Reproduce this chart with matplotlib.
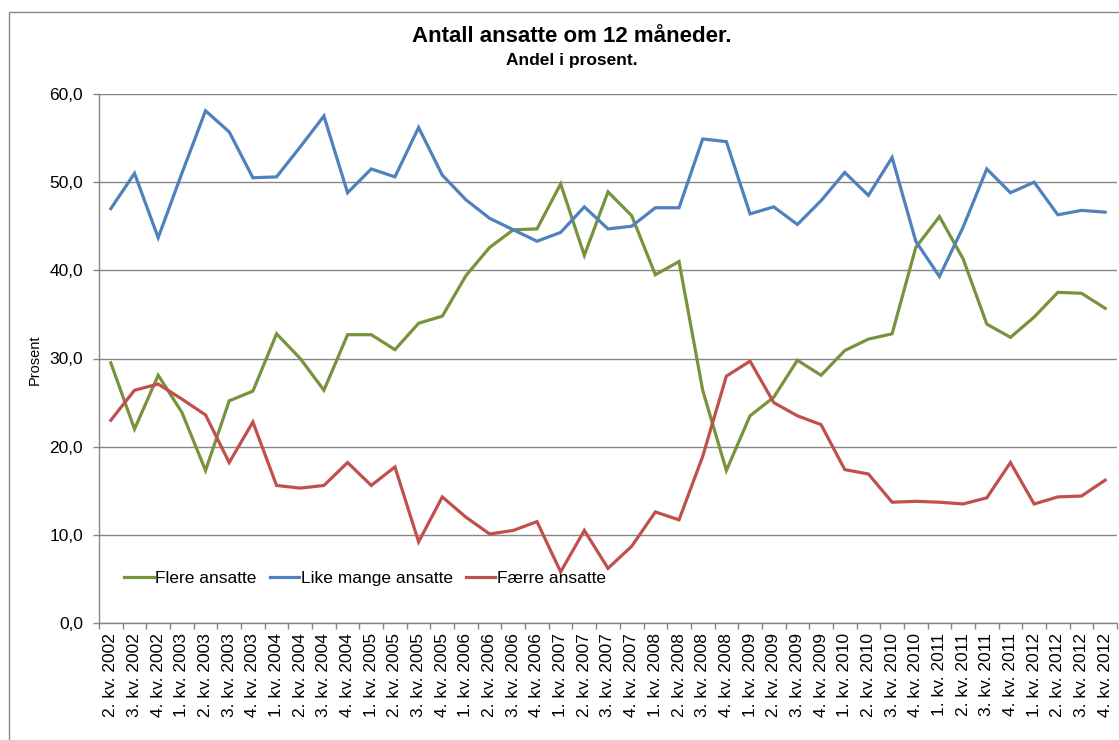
import matplotlib
matplotlib.use("Agg")
import matplotlib.pyplot as plt
from matplotlib.patches import Rectangle
from matplotlib.ticker import FixedLocator, FuncFormatter

plt.rcParams['font.family'] = ['Liberation Sans', 'DejaVu Sans']

quarters = []
for year in range(2002, 2013):
    for q in range(1, 5):
        if year == 2002 and q == 1:
            continue
        quarters.append(f"{q}. kv. {year}")

flere = [29.5, 22.0, 28.1, 23.9, 17.3, 25.2, 26.3, 32.8, 30.0, 26.4, 32.7,
         32.7, 31.0, 34.0, 34.8, 39.4, 42.6, 44.6, 44.7, 49.8, 41.7, 48.9,
         46.2, 39.5, 41.0, 26.4, 17.3, 23.5, 25.6, 29.8, 28.1, 30.9, 32.2,
         32.8, 42.6, 46.1, 41.3, 33.9, 32.4, 34.7, 37.5, 37.4, 35.7]
like_mange = [47.0, 51.0, 43.7, 51.0, 58.1, 55.7, 50.5, 50.6, 54.0, 57.5, 48.8,
              51.5, 50.6, 56.2, 50.8, 48.0, 45.9, 44.6, 43.3, 44.3, 47.2, 44.7,
              45.0, 47.1, 47.1, 54.9, 54.6, 46.4, 47.2, 45.2, 47.9, 51.1, 48.5,
              52.8, 43.3, 39.3, 44.9, 51.5, 48.8, 50.0, 46.3, 46.8, 46.6]
faerre = [23.0, 26.4, 27.1, 25.4, 23.6, 18.2, 22.8, 15.6, 15.3, 15.6, 18.2,
          15.6, 17.7, 9.2, 14.3, 12.0, 10.1, 10.5, 11.5, 5.8, 10.5, 6.2,
          8.7, 12.6, 11.7, 18.9, 28.0, 29.7, 25.0, 23.5, 22.5, 17.4, 16.9,
          13.7, 13.8, 13.7, 13.5, 14.2, 18.2, 13.5, 14.3, 14.4, 16.2]

series_names = ["Flere ansatte", "Like mange ansatte", "Færre ansatte"]
colors = ["#77933C", "#4F81BD", "#C0504D"]
yticks = [0, 10, 20, 30, 40, 50, 60]

W, H = 1119, 740
fig = plt.figure(figsize=(W / 100, H / 100), dpi=100)
ax = fig.add_axes([99 / W, 1 - 623 / H, (1117 - 99) / W, (623 - 94) / H])

x = list(range(len(quarters)))
for vals, name, c in zip([flere, like_mange, faerre], series_names, colors):
    ax.plot(x, vals, color=c, lw=2.3, label=name, solid_joinstyle='miter', zorder=3)

gray = "#868686"
ax.set_xlim(-0.5, len(quarters) - 0.5)
ax.set_ylim(0, 60)
ax.set_yticks(yticks)
ax.yaxis.set_major_formatter(FuncFormatter(lambda v, p: f"{v:.1f}".replace(".", ",")))
ax.grid(axis='y', color=gray, lw=1, zorder=0)
ax.set_axisbelow(True)

ax.set_xticks(x)
ax.set_xticklabels(quarters, rotation=90, fontsize=12.5)
ax.xaxis.set_minor_locator(FixedLocator([i - 0.5 for i in range(len(quarters) + 1)]))
ax.tick_params(axis='x', which='major', length=0, pad=7)
ax.tick_params(axis='x', which='minor', length=4, color=gray, width=1)
ax.tick_params(axis='y', length=4.5, color=gray, width=1, labelsize=12.5, pad=7)

for s in ['top', 'right']:
    ax.spines[s].set_visible(False)
for s in ['left', 'bottom']:
    ax.spines[s].set_color(gray)
    ax.spines[s].set_linewidth(1)

leg = ax.legend(loc='center left', bbox_to_anchor=(124 / W, 1 - 578 / H),
                bbox_transform=fig.transFigure, ncol=3, frameon=False,
                fontsize=12.5, handlelength=1.7, handletextpad=0.1,
                columnspacing=0.75, borderpad=0, borderaxespad=0)

fig.text(572 / W, 1 - 37 / H, "Antall ansatte om 12 måneder.", ha='center', va='center',
         fontsize=16, fontweight='bold')
fig.text(572 / W, 1 - 60 / H, "Andel i prosent.", ha='center', va='center',
         fontsize=12.5, fontweight='bold')
fig.text(35 / W, 1 - 360 / H, "Prosent", ha='center', va='center', rotation=90,
         fontsize=10.5)

fig.add_artist(Rectangle((9 / W, -0.05), 1.2, 1 - 12 / H + 0.05, transform=fig.transFigure,
                         fill=False, edgecolor=gray, lw=1))

fig.savefig("out.png", dpi=100)
